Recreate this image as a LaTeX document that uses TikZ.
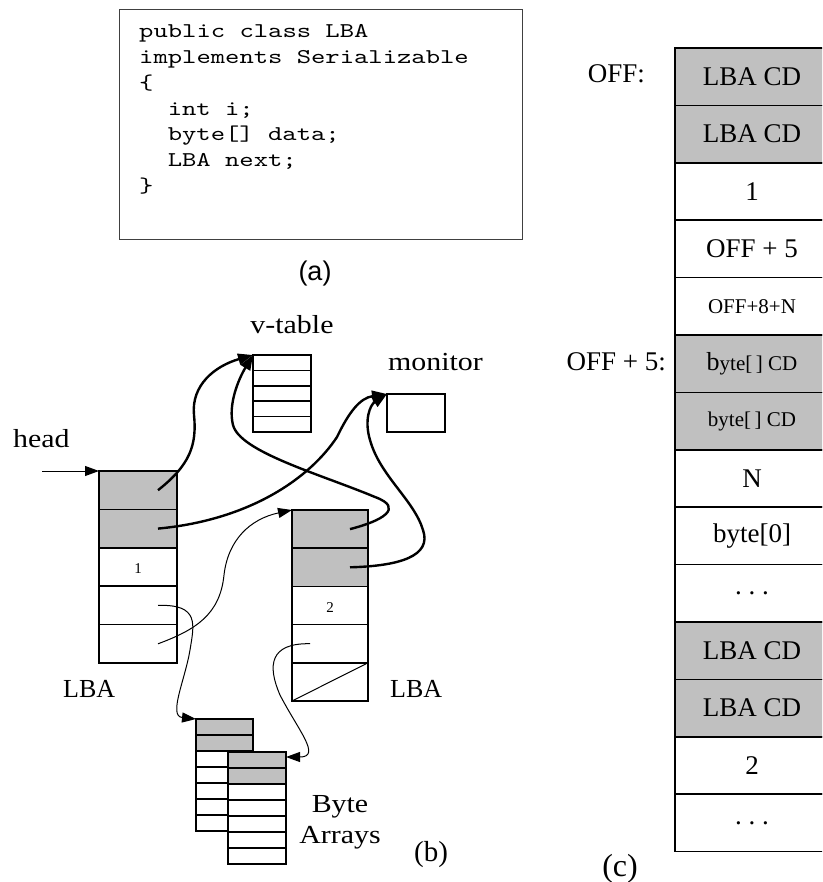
\documentclass[tikz,border=0pt]{standalone}
\usepackage{fontspec}
\newfontfamily\serifrm{Liberation Serif}
\newfontfamily\serifwide[FakeStretch=1.15]{Liberation Serif}
\newfontfamily\sansrm{Liberation Sans}
\newfontfamily\codefont[FakeStretch=1.3]{lmmono10-regular.otf}
\usetikzlibrary{arrows.meta}
\definecolor{cellgray}{RGB}{192,192,192}
\definecolor{boxline}{RGB}{64,64,64}

\tikzset{
  objcell/.style={draw=black, line width=1.6pt, inner sep=0pt, outer sep=0pt,
    minimum width=#1},
  shaded/.style={fill=cellgray},
  plain/.style={fill=white},
  memcell/.style={draw=black, line width=1.5pt, inner sep=0pt, outer sep=0pt,
    minimum width=154pt, minimum height=57.4pt,
    font=\serifrm\fontsize{27}{30}\selectfont},
  codeline/.style={anchor=base west, inner sep=0pt,
    font=\codefont\fontsize{21}{25.7}\selectfont},
  lbl/.style={inner sep=0pt, font=\serifrm\fontsize{26}{30}\selectfont},
  wlbl/.style={inner sep=0pt, font=\serifwide\fontsize{26}{31}\selectfont},
  thickptr/.style={line width=2.4pt, -{Triangle[length=15pt,width=11pt]}},
  thinptr/.style={line width=1pt, -{Triangle[length=14pt,width=10pt]}},
}

\begin{document}
\begin{tikzpicture}[x=1pt,y=-1pt]
\useasboundingbox (0,0) rectangle (822,882);
\clip (0,0) rectangle (822,882);

% ---------- (a) class declaration ----------
\node[draw=boxline, line width=1.2pt, minimum width=403pt, minimum height=230pt,
      anchor=north west, inner sep=0pt] (codebox) at (119,9) {};
\node[codeline] (c1) at (139,38)    {public class LBA};
\node[codeline] (c2) at (139,63.7)  {implements Serializable};
\node[codeline] (c3) at (139,89.4)  {\{};
\node[codeline] (c4) at (167.6,115.1) {int i;};
\node[codeline] (c5) at (167.6,140.8) {byte[] data;};
\node[codeline] (c6) at (167.6,166.5) {LBA next;};
\node[codeline] (c7) at (139,192.2) {\}};
\node[inner sep=0pt, font=\sansrm\fontsize{27}{30}\selectfont, anchor=base] (capa) at (315,280) {(a)};

% ---------- (b) object graph ----------
% left LBA object
\foreach \i in {1,2}
  \node[objcell=78pt, minimum height=38.4pt, shaded] (L\i) at (138,{451.8+38.4*\i}) {};
\foreach \i in {3,4,5}
  \node[objcell=78pt, minimum height=38.4pt, plain] (L\i) at (138,{451.8+38.4*\i}) {};
\node[font=\serifrm\fontsize{15}{16}\selectfont] at ([yshift=-2pt]L3.center) {1};

% right LBA object
\foreach \i in {1,2}
  \node[objcell=76pt, minimum height=38.2pt, shaded] (R\i) at (330,{490.9+38.2*\i}) {};
\foreach \i in {3,4,5}
  \node[objcell=76pt, minimum height=38.2pt, plain] (R\i) at (330,{490.9+38.2*\i}) {};
\node[font=\serifrm\fontsize{15}{16}\selectfont] at ([yshift=-2pt]R3.center) {2};
\draw[line width=1pt] (R5.south west) -- (R5.north east);

% v-table
\foreach \i in {1,...,5}
  \node[objcell=58pt, minimum height=15.4pt, plain] (V\i) at (282,{347.3+15.4*\i}) {};
% monitor
\node[objcell=58pt, minimum height=38pt, plain] (mon) at (416,413) {};

% byte arrays (back, then front)
\foreach \i in {1,2}
  \node[objcell=57pt, minimum height=16pt, shaded] (B\i) at (224.5,{711+16*\i}) {};
\foreach \i in {3,...,7}
  \node[objcell=57pt, minimum height=16pt, plain] (B\i) at (224.5,{711+16*\i}) {};
\foreach \i in {1,2}
  \node[objcell=58pt, minimum height=16pt, shaded] (F\i) at (257,{744+16*\i}) {};
\foreach \i in {3,...,7}
  \node[objcell=58pt, minimum height=16pt, plain] (F\i) at (257,{744+16*\i}) {};

% labels
\node[wlbl, anchor=base] (vtl) at (292,333) {v-table};
\node[wlbl, anchor=base west] (monl) at (388,370) {monitor};
\node[wlbl, anchor=base west] (headl) at (13,447) {head};
\node[lbl, anchor=base west] (lbal) at (63,697) {LBA};
\node[lbl, anchor=base west] (lbar) at (390,697) {LBA};
\node[wlbl, align=center, anchor=base] (bytel) at (340,843) {Byte\\Arrays};
\node[lbl, font=\serifrm\fontsize{29}{32}\selectfont, anchor=base] (capb) at (431,861) {(b)};

% head pointer
\coordinate (headstart) at (42,471);
\draw[thinptr] (headstart) -- (L1.north west);

% class-descriptor and monitor pointers
\draw[thickptr] ([xshift=20pt]L1.center)
  .. controls (190,465) and (197,445) .. (194,415)
  .. controls (191,385) and (215,366) .. (V1.north west);
\draw[thickptr] ([xshift=20pt]L2.center)
  .. controls (250,520) and (310,478) .. (337,437)
  .. controls (349,412) and (360,398) .. (mon.north west);
\draw[thickptr] ([xshift=20pt]R1.center)
  .. controls (382,521) and (405,508) .. (375,497)
  .. controls (320,474) and (240,452) .. (233,425)
  .. controls (228,405) and (238,380) .. (V1.north west);
\draw[thickptr] ([xshift=20pt]R2.center)
  .. controls (400,566) and (432,556) .. (423,530)
  .. controls (414,500) and (380,476) .. (370,440)
  .. controls (364,420) and (370,405) .. (mon.north west);

% data and next pointers
\draw[thinptr] ([xshift=20pt]L4.center)
  .. controls (200,604) and (194,625) .. (190,650)
  .. controls (185,680) and (168,716) .. (B1.north west);
\draw[thinptr] ([xshift=20pt]L5.center)
  .. controls (195,630) and (220,615) .. (224,575)
  .. controls (228,540) and (250,519) .. (R1.north west);
\draw[thinptr] ([xshift=-20pt]R4.center)
  .. controls (270,643) and (267,665) .. (280,695)
  .. controls (298,730) and (322,757) .. ([yshift=3pt]F1.east);

% ---------- (c) serialized layout ----------
\node[memcell, shaded] (m1)  at (752,76.7)  {LBA CD};
\node[memcell, shaded] (m2)  at (752,134.1) {LBA CD};
\node[memcell, plain]  (m3)  at (752,191.5) {1};
\node[memcell, plain]  (m4)  at (752,248.9) {OFF + 5};
\node[memcell, plain, font=\serifrm\fontsize{21}{24}\selectfont] (m5) at (752,306.3) {OFF+8+N};
\node[memcell, shaded, font=\serifrm\fontsize{21}{24}\selectfont] (m6) at (752,363.7)
  {{\fontsize{26}{28}\selectfont b}yte[\,] CD};
\node[memcell, shaded, font=\serifrm\fontsize{21}{24}\selectfont] (m7) at (752,421.1) {byte[\,] CD};
\node[memcell, plain]  (m8)  at (752,478.5) {N};
\node[memcell, plain]  (m9)  at (752,535.9) {byte[0]};
\node[memcell, plain]  (m10) at (752,593.3) {.\ .\ .};
\node[memcell, shaded] (m11) at (752,650.7) {LBA CD};
\node[memcell, shaded] (m12) at (752,708.1) {LBA CD};
\node[memcell, plain]  (m13) at (752,765.5) {2};
\node[memcell, plain]  (m14) at (752,822.9) {.\ .\ .};

\node[lbl, font=\serifrm\fontsize{27}{30}\selectfont, anchor=base east] (offl) at (645,83) {OFF:};
\node[lbl, font=\serifrm\fontsize{27}{30}\selectfont, anchor=base east] (off5l) at (666,370) {OFF + 5:};
\node[lbl, font=\serifrm\fontsize{32}{34}\selectfont, anchor=base] (capc) at (620,876) {(c)};
\end{tikzpicture}
\end{document}
